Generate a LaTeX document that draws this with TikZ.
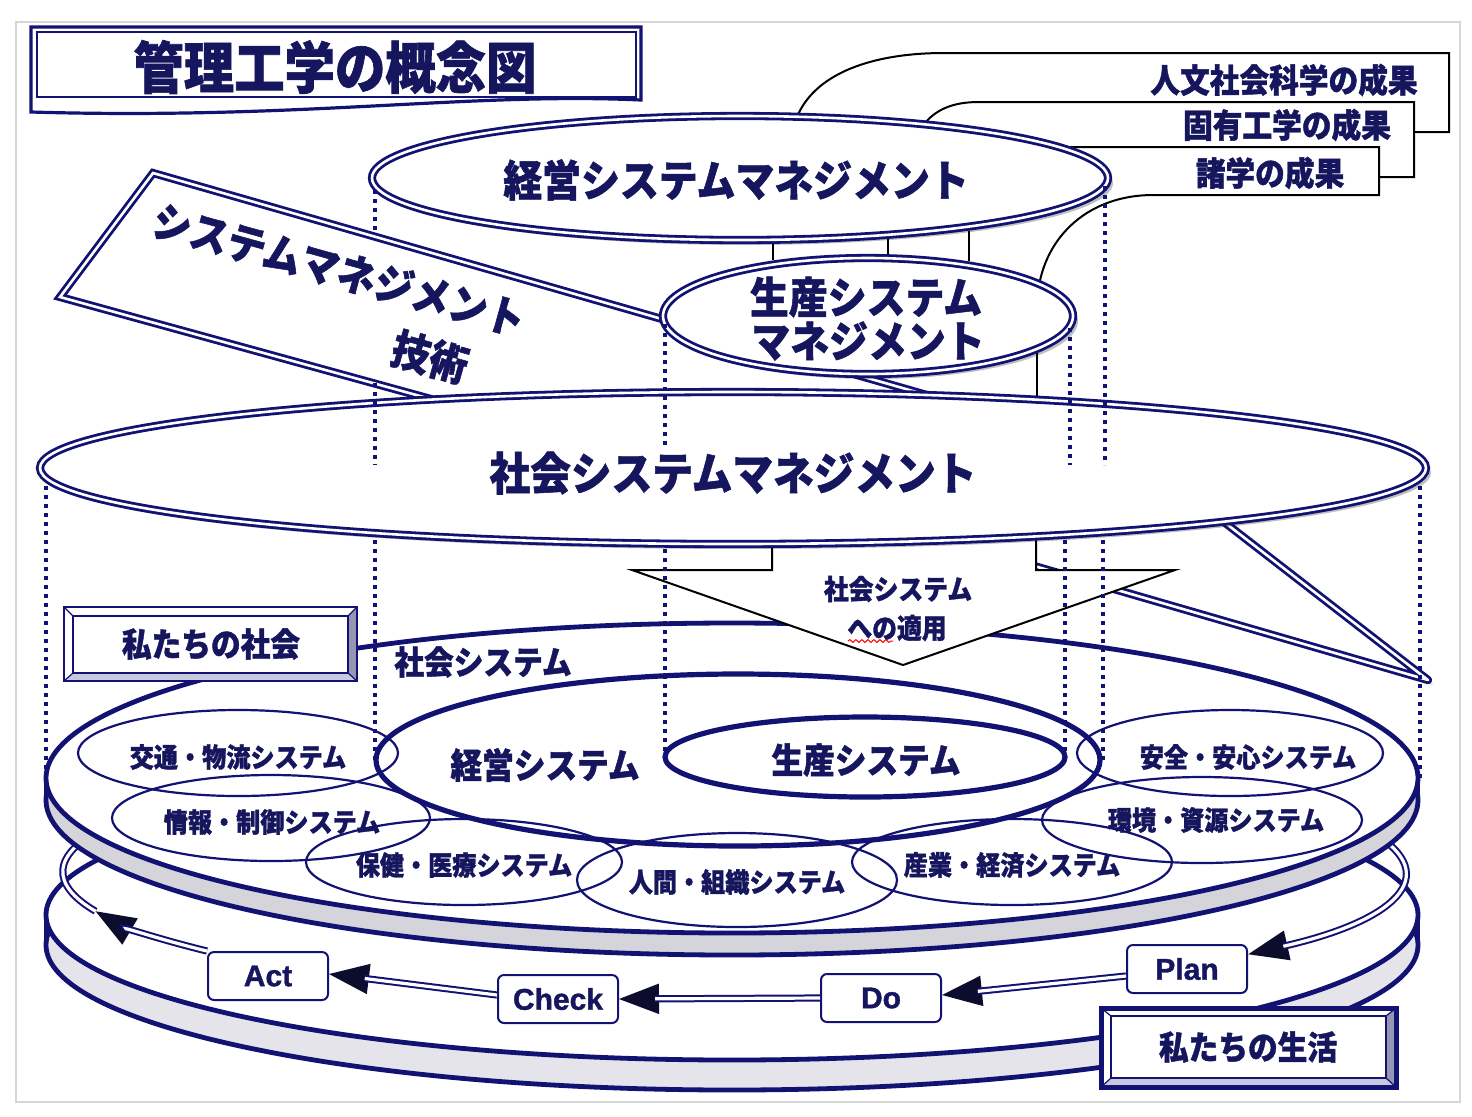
\documentclass[tikz,border=0pt]{standalone}
\usepackage{fontspec}
\usepackage{graphicx}
\newfontfamily\jp{Noto Sans CJK JP}[BoldFeatures={FakeStretch=0.9,FakeBold=1.2}]
\newfontfamily\lat{Liberation Sans}[BoldFeatures={FakeBold=1.2}]
\usetikzlibrary{shapes.geometric,shadows,arrows.meta,decorations.pathmorphing}
\definecolor{navyL}{RGB}{18,18,115}
\definecolor{navyT}{RGB}{22,22,95}
\definecolor{tipc}{RGB}{12,12,45}
\definecolor{rimA}{RGB}{212,212,218}
\definecolor{rimB}{RGB}{228,228,234}
\definecolor{bevA}{RGB}{200,200,222}
\definecolor{bevB}{RGB}{150,150,178}
\definecolor{frameC}{RGB}{214,214,214}
\tikzset{
 jt/.style={text=navyT, inner sep=0pt, font=\jp\bfseries\fontsize{#1}{#1}\selectfont},
 dbl/.style={draw=navyL, line width=1.4pt, double=white, double distance=1.3pt},
 shad/.style={drop shadow={shadow xshift=2.5pt, shadow yshift=-2.5pt, opacity=0.25, fill=black}},
 disc/.style={draw=navyL, line width=2.4pt},
 subell/.style={ellipse, draw=navyL, line width=1.1pt, inner sep=0pt, outer sep=0pt},
 thkell/.style={ellipse, draw=navyL, line width=2.6pt, inner sep=0pt, outer sep=0pt},
 bigell/.style={ellipse, dbl, fill=white, shad, inner sep=0pt, outer sep=0pt},
 dots/.style={draw=navyL, line width=2pt, dash pattern=on 2pt off 2.5pt},
 ring/.style={draw=navyL, line width=1pt, double=white, double distance=1.6pt},
 tipline/.style={draw=tipc, line width=1pt, -{Triangle[length=20pt,width=15pt]}},
 pdca/.style={draw=navyL, line width=1pt, fill=white, rounded corners=3pt, minimum width=60pt, minimum height=24pt, inner sep=0pt, text=navyT, font=\lat\bfseries\fontsize{15}{15}\selectfont},
 call/.style={draw=black, line width=1pt},
}
\begin{document}
\begin{tikzpicture}[x=0.5pt,y=-0.5pt]
\useasboundingbox (0,0) rectangle (1472,1116);
\fill[white] (0,0) rectangle (1472,1116);
\draw[frameC, line width=0.8pt] (16,22) rectangle (1460,1102);

% ---------- lower disc (our life)
\fill[rimB] (732,945) ellipse [x radius=686, y radius=145];
\draw[disc] (732,945) ellipse [x radius=686, y radius=145];
\draw[disc] (46,915) -- (46,945) (1418,915) -- (1418,945);
\draw[disc, fill=white] (732,915) ellipse [x radius=686, y radius=145];

% ---------- PDCA
\node[pdca] (plan) at (1187,969) {Plan};
\node[pdca] (do) at (881,998) {Do};
\node[pdca] (check) at (558,999) {Check};
\node[pdca] (act) at (268,976) {Act};
\coordinate (r1) at (1364.6,828.2);
\draw[tipline] (r1) arc[start angle=-20,end angle=40,x radius=670,y radius=128];
\draw[ring, shorten >=18pt] (r1) arc[start angle=-20,end angle=40,x radius=670,y radius=128];
\draw[tipline] ([yshift=-3.5pt]plan.west) -- ([yshift=1.5pt]do.east);
\draw[ring, shorten >=18pt] ([yshift=-3.5pt]plan.west) -- ([yshift=1.5pt]do.east);
\draw[tipline] (do.west) -- (check.east);
\draw[ring, shorten >=18pt] (do.west) -- (check.east);
\draw[tipline] ([yshift=2pt]check.west) -- ([yshift=1pt]act.east);
\draw[ring, shorten >=18pt] ([yshift=2pt]check.west) -- ([yshift=1pt]act.east);
\draw[tipline] (act.north west) arc[start angle=141.7,end angle=162,x radius=670,y radius=128] coordinate (r5);
\draw[ring, shorten >=18pt] (act.north west) arc[start angle=141.7,end angle=162,x radius=670,y radius=128];
\draw[ring] (r5) arc[start angle=162,end angle=200,x radius=670,y radius=128];

% ---------- our life box
\fill[white] (1101,1008) rectangle (1396,1087);
\fill[bevA] (1101,1087) -- (1396,1087) -- (1386,1078) -- (1111,1078) -- cycle;
\fill[bevB] (1396,1008) -- (1396,1087) -- (1386,1078) -- (1386,1016) -- cycle;
\draw[navyL, line width=0.6pt] (1101,1008) -- (1111,1016) (1396,1008) -- (1386,1016) (1101,1087) -- (1111,1078) (1396,1087) -- (1386,1078);
\draw[navyL, line width=1pt] (1111,1016) rectangle (1386,1078);
\draw[navyL, line width=2.5pt] (1101,1008) rectangle (1396,1087);
\node[jt=16.5] (life) at (1248,1047) {私たちの生活};

% ---------- upper disc (social system)
\fill[rimA] (732,800) ellipse [x radius=686, y radius=155];
\draw[disc] (732,800) ellipse [x radius=686, y radius=155];
\draw[disc] (46,778) -- (46,800) (1418,778) -- (1418,800);
\draw[disc, fill=white] (732,778) ellipse [x radius=686, y radius=155];

\node[subell, minimum width=160pt, minimum height=43pt] (kotsu) at (238,753) {};
\node[subell, minimum width=159pt, minimum height=43pt] (joho) at (271,818) {};
\node[subell, minimum width=158pt, minimum height=43pt] (hoken) at (464,862) {};
\node[subell, minimum width=160pt, minimum height=47pt] (ningen) at (737,880) {};
\node[subell, minimum width=160pt, minimum height=43pt] (sangyo) at (1012,862) {};
\node[subell, minimum width=160pt, minimum height=43pt] (kankyo) at (1202,820) {};
\node[subell, minimum width=153pt, minimum height=43pt] (anzen) at (1230,753) {};
\node[thkell, minimum width=362pt, minimum height=86pt] (keieiS) at (738,760) {};
\node[thkell, minimum width=200pt, minimum height=40pt] (seisanS) at (865,757) {};

\node[jt=13.4] (tkotsu) at (238,757) {交通・物流システム};
\node[jt=13.4] (tjoho) at (272,822) {情報・制御システム};
\node[jt=13.4] (thoken) at (464,865) {保健・医療システム};
\node[jt=13.4] (tningen) at (737,882) {人間・組織システム};
\node[jt=13.4] (tsangyo) at (1012,865) {産業・経済システム};
\node[jt=13.4] (tkankyo) at (1216,820) {環境・資源システム};
\node[jt=13.4] (tanzen) at (1248,757) {安全・安心システム};
\node[jt=17.6] (tkeieiS) at (545,765) {経営システム};
\node[jt=17.6] (tseisanS) at (866,760) {生産システム};

% ---------- our society box
\fill[white] (64,607) rectangle (357,681);
\fill[bevA] (64,681) -- (357,681) -- (348,673) -- (73,673) -- cycle;
\fill[bevB] (357,607) -- (357,681) -- (348,673) -- (348,616) -- cycle;
\draw[navyL, line width=0.6pt] (64,607) -- (73,616) (357,607) -- (348,616) (64,681) -- (73,673) (357,681) -- (348,673);
\draw[navyL, line width=0.8pt] (73,616) rectangle (348,673);
\draw[navyL, line width=1.2pt] (64,607) rectangle (357,681);
\node[jt=16.5] (society) at (211,644) {私たちの社会};
\node[jt=16.5] (tshakaiS) at (483,662) {社会システム};

% ---------- pointer of social system management
\draw[dbl, fill=white, shad, line join=round] (910,530) -- (1428,680) -- (1215,515) -- cycle;

% ---------- application arrow
\draw[black, line width=1pt, fill=white] (772,520) -- (772,570) -- (632,570) -- (903,665) -- (1175,570) -- (1036,570) -- (1036,520) -- cycle;
\node[jt=13.8] (app1) at (898,589) {社会システム};
\node[jt=13.8] (app2) at (897,628) {への適用};
\draw[red, line width=0.5pt, decorate, decoration={snake,amplitude=0.7pt,segment length=3pt}] (848,641) -- (893,641);

% ---------- projection lines (lower)
\draw[dots] (46,468) -- (46,778);
\draw[dots] (375,468) -- (375,760);
\draw[dots] (665,468) -- (665,757);
\draw[dots] (1065,468) -- (1065,757);
\draw[dots] (1103,468) -- (1103,760);
\draw[dots] (1420,468) -- (1420,778);
\draw[dots] (375,190) -- (375,236);

% ---------- system management technology
\draw[dbl, fill=white, shad] (153,173) -- (1000,416) -- (700,473) -- (60,297) -- cycle;
\node[jt=21.4, rotate=-15.5] (smt1) at (339,270) {システムマネジメント};
\node[jt=21.4, rotate=-15.5] (smt2) at (430,357) {技術};

% ---------- callouts
\draw[call] (795,122) .. controls (812,72) and (875,53) .. (944,53) -- (1449,53) -- (1449,132) -- (1414,132);
\draw[call] (921,128) .. controls (935,108) and (955,102) .. (979,102) -- (1414,102) -- (1414,177) -- (1379,177);
\draw[call] (1050,147) -- (1379,147) -- (1379,195) -- (1153,195) .. controls (1090,195) and (1045,235) .. (1038,292);
\node[jt=16.5] (jinbun) at (1284,80) {人文社会科学の成果};
\node[jt=16.5] (koyu) at (1287,125) {固有工学の成果};
\node[jt=16.5] (shogaku) at (1270,173) {諸学の成果};

% ---------- management ellipses
\node[bigell, minimum width=693pt, minimum height=76pt] (shakaiM) at (733,468) {};
\node[jt=22.6] (tshakaiM) at (733,473) {社会システムマネジメント};
\node[bigell, minimum width=205pt, minimum height=58pt] (seisanM) at (868,316) {};
\node[jt=21.6] (tseisanM1) at (866,297) {生産システム};
\node[jt=21.6] (tseisanM2) at (868,341) {マネジメント};
\node[bigell, minimum width=368pt, minimum height=62pt] (keiei) at (740,178) {};
\node[jt=21.6] (tkeiei) at (736,180) {経営システムマネジメント};

\draw[call, shorten <=2pt, shorten >=2pt] (keiei.-62.6) -- (keiei.-62.6 |- seisanM.151.9);
\draw[call, shorten <=2pt, shorten >=2pt] (keiei.-21.1) -- (keiei.-21.1 |- seisanM.71.8);
\draw[call, shorten <=2pt, shorten >=2pt] (keiei.-12.3) -- (keiei.-12.3 |- seisanM.27.8);
\draw[call, shorten <=2pt, shorten >=2pt] (seisanM.-11.6) -- (seisanM.-11.6 |- shakaiM.12.8);

% ---------- projection lines (upper)
\draw[dots] (375,383) -- (375,465);
\draw[dots] (665,324) -- (665,445);
\draw[dots] (1070,328) -- (1070,465);
\draw[dots] (1105,186) -- (1105,465);

% ---------- title
\draw[navyL, line width=1.6pt, fill=white] (31,27) -- (641,27) -- (641,100) .. controls (470,92) and (300,120) .. (31,112) -- cycle;
\draw[navyL, line width=1.2pt] (37,32) rectangle (636,97);
\node[jt=28] (title) at (335,67) {管理工学の概念図};
\end{tikzpicture}
\end{document}
